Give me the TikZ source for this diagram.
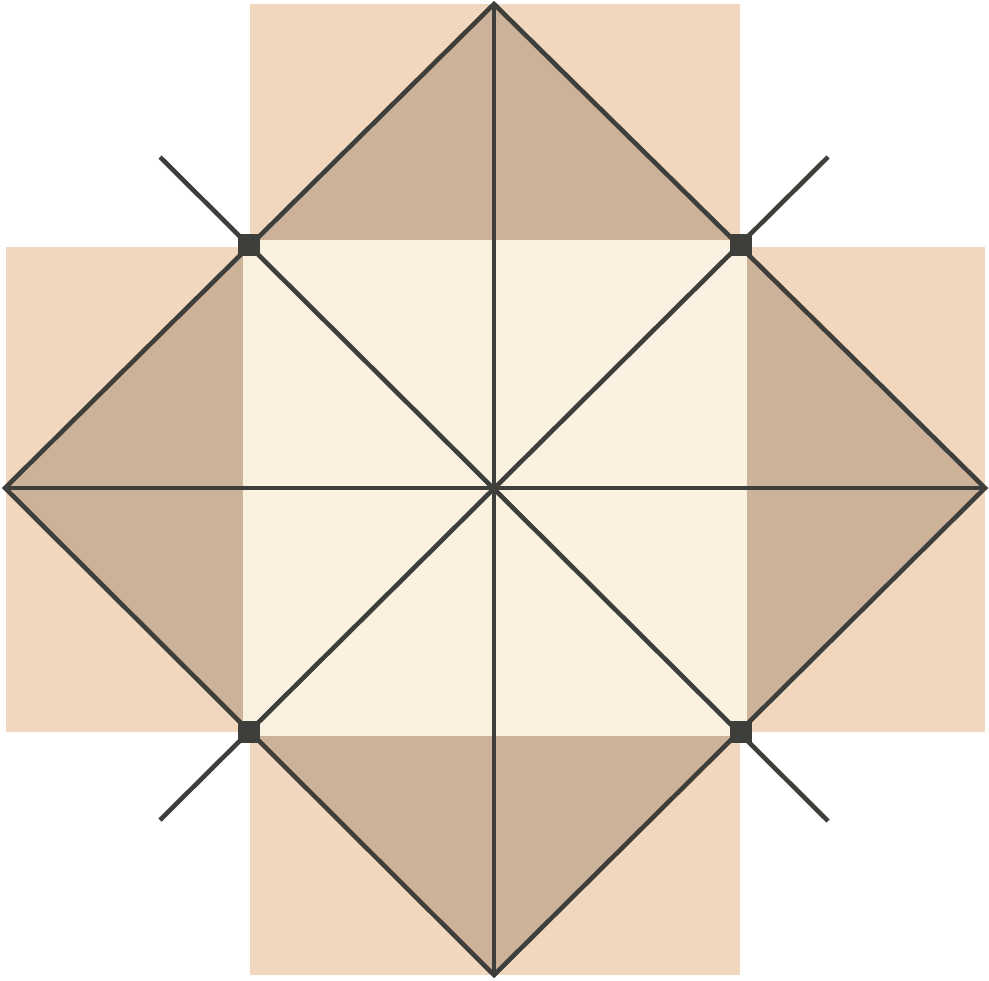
\documentclass[tikz,border=0pt]{standalone}
\usepackage{tikz}
\usetikzlibrary{calc}
\definecolor{peach}{HTML}{F0D7BD}
\definecolor{tan}{HTML}{CDB29A}
\definecolor{cream}{HTML}{FAF1E0}
\definecolor{ink}{HTML}{3E3E3B}
\tikzset{
    crossarm/.style={fill=peach},
    flap/.style={fill=tan},
    centre/.style={fill=cream},
    fold/.style={draw=ink, line width=2.6pt, line join=miter},
    cornerdot/.style={shape=rectangle, fill=ink, minimum size=0.44cm, inner sep=0pt},
}
\begin{document}
\begin{tikzpicture}[x=0.02cm, y=-0.02cm]
    \useasboundingbox (0,0) rectangle (989,980);
    % diamond apexes and centre
    \coordinate (T) at (494,4);
    \coordinate (B) at (494,975);
    \coordinate (L) at (5,488);
    \coordinate (R) at (985,488);
    \coordinate (O) at (494,488);
    % free ends of the diagonals
    \coordinate (DTL) at (160,157);
    \coordinate (DBR) at (828,821);
    \coordinate (DTR) at (828,157);
    \coordinate (DBL) at (160,820);
    % background cross
    \fill[crossarm] (250,4) rectangle (740,975);
    \fill[crossarm] (6,247) rectangle (985,732);
    \fill[flap] (T) -- (R) -- (B) -- (L) -- cycle;
    \fill[centre] (243,240) rectangle (747,736);
    % fold lines
    \draw[fold] (T) -- (R) -- (B) -- (L) -- cycle;
    \draw[fold] (L) -- (R);
    \draw[fold] (T) -- (B);
    \draw[fold] (DTL) -- (DBR);
    \draw[fold] (DTR) -- (DBL);
    \foreach \n/\x/\y in {tl/249/245, tr/741/245, bl/249/732, br/741/732}
        \node[cornerdot] (dot\n) at (\x,\y) {};
\end{tikzpicture}
\end{document}
